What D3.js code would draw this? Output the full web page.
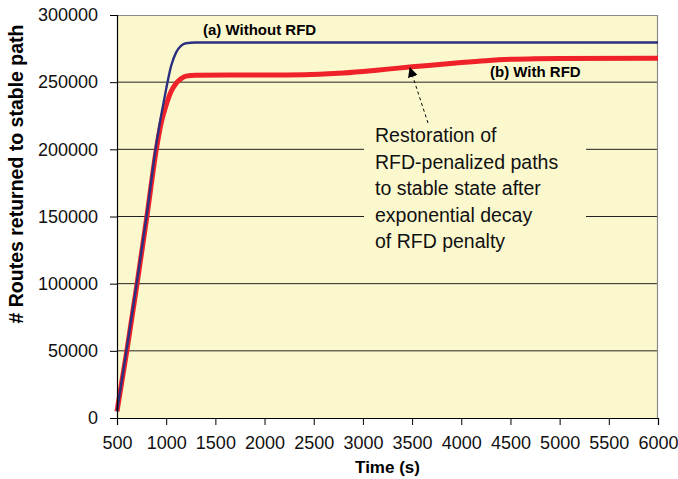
<!DOCTYPE html>
<html>
<head>
<meta charset="utf-8">
<script src="https://cdn.jsdelivr.net/npm/d3@7"></script>
<style>
  body { margin: 0; background: #fff; }
  svg text { font-family: Arial, "Liberation Sans", sans-serif; }
</style>
</head>
<body>
<svg width="678" height="479"></svg>
<script>
// series (a) without RFD
var timeA   = [500, 600, 700, 800, 900, 1000, 1050, 1100, 1150, 1200, 1300, 2000, 3000, 4000, 5000, 6000];
var routesA = [5000, 52000, 100000, 150000, 204000, 245000, 262000, 272000, 277000, 279000, 279500, 279500, 279500, 279500, 279500, 279500];

// series (b) with RFD
var timeB   = [500, 600, 700, 800, 900, 950, 1000, 1050, 1100, 1150, 1200, 1300, 2000, 2400, 2750, 3000, 3250, 3500, 3750, 4000, 4250, 4500, 4750, 5000, 6000];
var routesB = [5000, 50000, 98000, 148000, 200000, 220000, 233000, 243000, 249000, 252500, 254500, 255200, 255300, 255500, 256600, 258000, 259700, 261400, 263000, 264600, 266000, 267000, 267500, 267700, 267800];

var xTicks = [500, 1000, 1500, 2000, 2500, 3000, 3500, 4000, 4500, 5000, 5500, 6000];
var yTicks = [0, 50000, 100000, 150000, 200000, 250000, 300000];

var noteLines = ["Restoration of", "RFD-penalized paths", "to stable state after", "exponential decay", "of RFD penalty"];

var margin = {top: 15, right: 20, bottom: 61, left: 117};

var svg = d3.select("svg"),
    width = +svg.attr("width") - margin.left - margin.right,
    height = +svg.attr("height") - margin.top - margin.bottom;

var x = d3.scaleLinear().domain([500, 6000]).range([0, width]);
var y = d3.scaleLinear().domain([0, 300000]).range([height, 0]);

var defs = svg.append("defs");
defs.append("marker")
    .attr("id", "head")
    .attr("viewBox", "0 0 10 10")
    .attr("refX", 9).attr("refY", 5)
    .attr("markerWidth", 10).attr("markerHeight", 10)
    .attr("markerUnits", "userSpaceOnUse")
    .attr("orient", "auto")
  .append("path")
    .attr("d", "M0,0 L10,5 L0,10 z")
    .attr("fill", "#000");

var g = svg.append("g").attr("transform", "translate(" + margin.left + "," + margin.top + ")");

// plot background
g.append("rect")
    .attr("width", width).attr("height", height)
    .attr("fill", "#fcf8ce");

// grid lines
g.append("g")
    .selectAll("line")
    .data(yTicks.filter(function(d){ return d > 0 && d < 300000; }))
    .enter().append("line")
    .attr("x1", 0).attr("x2", width)
    .attr("y1", function(d){ return y(d); })
    .attr("y2", function(d){ return y(d); })
    .attr("stroke", "#222").attr("stroke-width", 1);

// top and right frame
g.append("path")
    .attr("d", "M0,0.5 H" + (width - 0.5) + " V" + height)
    .attr("fill", "none").attr("stroke", "#8a8a8a").attr("stroke-width", 1.2);

// annotation box covers grid
g.append("rect")
    .attr("x", 247).attr("y", 108)
    .attr("width", 222).attr("height", 134)
    .attr("fill", "#fcf8ce");

var line = d3.line()
    .x(function(d){ return x(d[0]); })
    .y(function(d){ return y(d[1]); })
    .curve(d3.curveMonotoneX);

g.append("path")
    .datum(d3.zip(timeB, routesB))
    .attr("d", line)
    .attr("fill", "none")
    .attr("stroke", "#ee2228")
    .attr("stroke-width", 5);

g.append("path")
    .datum(d3.zip(timeA, routesA))
    .attr("d", line)
    .attr("fill", "none")
    .attr("stroke", "#2b2f7f")
    .attr("stroke-width", 2.4);

// axes
var xAxis = g.append("g")
    .attr("transform", "translate(0," + height + ")")
    .call(d3.axisBottom(x).tickValues(xTicks).tickSize(7).tickPadding(11).tickFormat(d3.format("d")));
var yAxis = g.append("g")
    .call(d3.axisLeft(y).tickValues(yTicks).tickSize(7).tickPadding(12).tickFormat(d3.format("d")));

[xAxis, yAxis].forEach(function(a){
    a.select(".domain").attr("stroke", "#000").attr("stroke-width", 1.2);
    a.selectAll(".tick line").attr("stroke", "#000");
    a.selectAll("text").attr("font-size", 18).attr("fill", "#111")
        .style("font-family", "Arial, 'Liberation Sans', sans-serif");
});

// series labels
g.append("text")
    .attr("x", 86).attr("y", 20)
    .attr("font-size", 15).attr("font-weight", "bold")
    .text("(a) Without RFD");
g.append("text")
    .attr("x", 373).attr("y", 62)
    .attr("font-size", 15).attr("font-weight", "bold")
    .text("(b) With RFD");

// annotation
g.append("line")
    .attr("x1", 311).attr("y1", 108)
    .attr("x2", 293).attr("y2", 53)
    .attr("stroke", "#000").attr("stroke-width", 1)
    .attr("stroke-dasharray", "3,3")
    .attr("marker-end", "url(#head)");

g.append("text")
    .attr("font-size", 19.5).attr("fill", "#111")
    .selectAll("tspan")
    .data(noteLines)
    .enter().append("tspan")
    .attr("x", 258)
    .attr("y", function(d, i){ return 127 + i * 26.5; })
    .text(function(d){ return d; });

// axis titles
svg.append("text")
    .attr("x", margin.left + width / 2).attr("y", 473)
    .attr("text-anchor", "middle")
    .attr("font-size", 17).attr("font-weight", "bold")
    .text("Time (s)");
svg.append("text")
    .attr("transform", "translate(23,174) rotate(-90)")
    .attr("text-anchor", "middle")
    .attr("font-size", 19.5).attr("font-weight", "bold")
    .text("# Routes returned to stable path");
</script>
</body>
</html>
